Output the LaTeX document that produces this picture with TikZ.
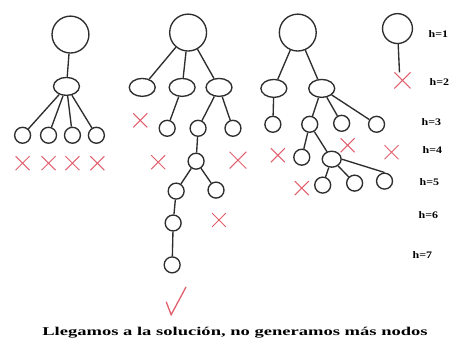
\documentclass[tikz,border=0pt]{standalone}
\usepackage{fontspec}
\setmainfont{Liberation Serif}
\usetikzlibrary{shapes.geometric}
\definecolor{ink}{HTML}{2E2E2E}
\definecolor{mark}{HTML}{E2606E}
\begin{document}
\begin{tikzpicture}[x=1pt,y=-1pt,
  every path/.style={line width=1.35pt,draw=ink},
  big/.style={circle,draw=ink,line width=1.35pt,minimum size=37pt,inner sep=0pt},
  bigs/.style={circle,draw=ink,line width=1.35pt,minimum size=30pt,inner sep=0pt},
  elli/.style={ellipse,draw=ink,line width=1.35pt,minimum width=26pt,minimum height=18pt,inner sep=0pt},
  sm/.style={circle,draw=ink,line width=1.35pt,minimum size=16pt,inner sep=0pt},
  hlab/.style={font=\bfseries\fontsize{10}{11}\selectfont,text=black,inner sep=0pt,xscale=1.2},
  xm/.pic={\draw[draw=mark,line width=1pt] (-7,-7)--(7,7) (-7,7)--(7,-7);}
]
\useasboundingbox (0,0) rectangle (451,340);
\fill[white] (0,0) rectangle (451,340);

% ---------- tree 1 ----------
\node[big] (a0) at (70,34) {};
\node[elli] (a1) at (66,86) {};
\node[sm] (a2) at (22,135) {};
\node[sm] (a3) at (48,135) {};
\node[sm] (a4) at (72,135) {};
\node[sm] (a5) at (96,135) {};
\draw (a0) -- (a1);
\draw (a1) -- (a2); \draw (a1) -- (a3); \draw (a1) -- (a4); \draw (a1) -- (a5);
\pic at (22,163) {xm};
\pic at (48,163) {xm};
\pic at (72,163) {xm};
\pic at (97,163) {xm};

% ---------- tree 2 ----------
\node[big] (b0) at (188,32) {};
\node[elli] (b1) at (142,87) {};
\node[elli] (b2) at (182,87) {};
\node[elli] (b3) at (219,87) {};
\node[sm] (b4) at (167,128) {};
\node[sm] (b5) at (198,128) {};
\node[sm] (b6) at (233,128) {};
\node[sm] (b7) at (196,161) {};
\node[sm] (b8) at (176,191) {};
\node[sm] (b9) at (216,190) {};
\node[sm] (b10) at (173,223) {};
\node[sm] (b11) at (172,265) {};
\draw (b0) -- (b1); \draw (b0) -- (b2); \draw (b0) -- (b3);
\draw (b2) -- (b4); \draw (b3) -- (b5); \draw (b3) -- (b6);
\draw (b5) -- (b7); \draw (b7) -- (b8); \draw (b7) -- (b9);
\draw (b8) -- (b10); \draw (b10) -- (b11);
\pic at (140,120) {xm};
\pic at (158,162) {xm};
\pic[scale=1.2] at (238,160) {xm};
\pic at (219,220) {xm};
\coordinate (c1) at (166,302);
\coordinate (c2) at (171,315);
\coordinate (c3) at (186,287);
\draw[draw=mark,line width=1.3pt] (c1) -- (c2) -- (c3);

% ---------- tree 3 ----------
\node[big] (d0) at (298,32) {};
\node[elli] (d1) at (274,88) {};
\node[elli] (d2) at (322,88) {};
\node[sm] (d3) at (273,124) {};
\node[sm] (d4) at (310,124) {};
\node[sm] (d5) at (342,123) {};
\node[sm] (d6) at (377,124) {};
\node[sm] (d7) at (302,157) {};
\node[elli,minimum width=19pt,minimum height=16pt] (d8) at (332,159) {};
\node[sm] (d9) at (323,185) {};
\node[sm] (d10) at (355,183) {};
\node[sm] (d11) at (385,181) {};
\draw (d0) -- (d1); \draw (d0) -- (d2);
\draw (d1) -- (d3);
\draw (d2) -- (d4); \draw (d2) -- (d5); \draw (d2) -- (d6);
\draw (d4) -- (d7); \draw (d4) -- (d8);
\draw (d8) -- (d9); \draw (d8) -- (d10); \draw (d8.east) -- (d11.north);
\pic at (278,155) {xm};
\pic at (348,145) {xm};
\pic at (392,152) {xm};
\pic at (302,188) {xm};

% ---------- tree 4 ----------
\node[bigs] (e0) at (398,28) {};
\coordinate (e1) at (400,72);
\draw (e0) -- (e1);
\pic[scale=1.15] at (403,80) {xm};

% ---------- labels ----------
\node[hlab] (h1) at (439,33) {h=1};
\node[hlab] (h2) at (440,82) {h=2};
\node[hlab] (h3) at (432,122) {h=3};
\node[hlab] (h4) at (433,150) {h=4};
\node[hlab] (h5) at (430,182) {h=5};
\node[hlab] (h6) at (429,215) {h=6};
\node[hlab] (h7) at (423,255) {h=7};

\node[inner sep=0pt,font=\bfseries\fontsize{12}{13}\selectfont] (cap) at (235,333)
  {\scalebox{1.55}[1]{Llegamos a la solución, no generamos más nodos}};
\end{tikzpicture}
\end{document}
